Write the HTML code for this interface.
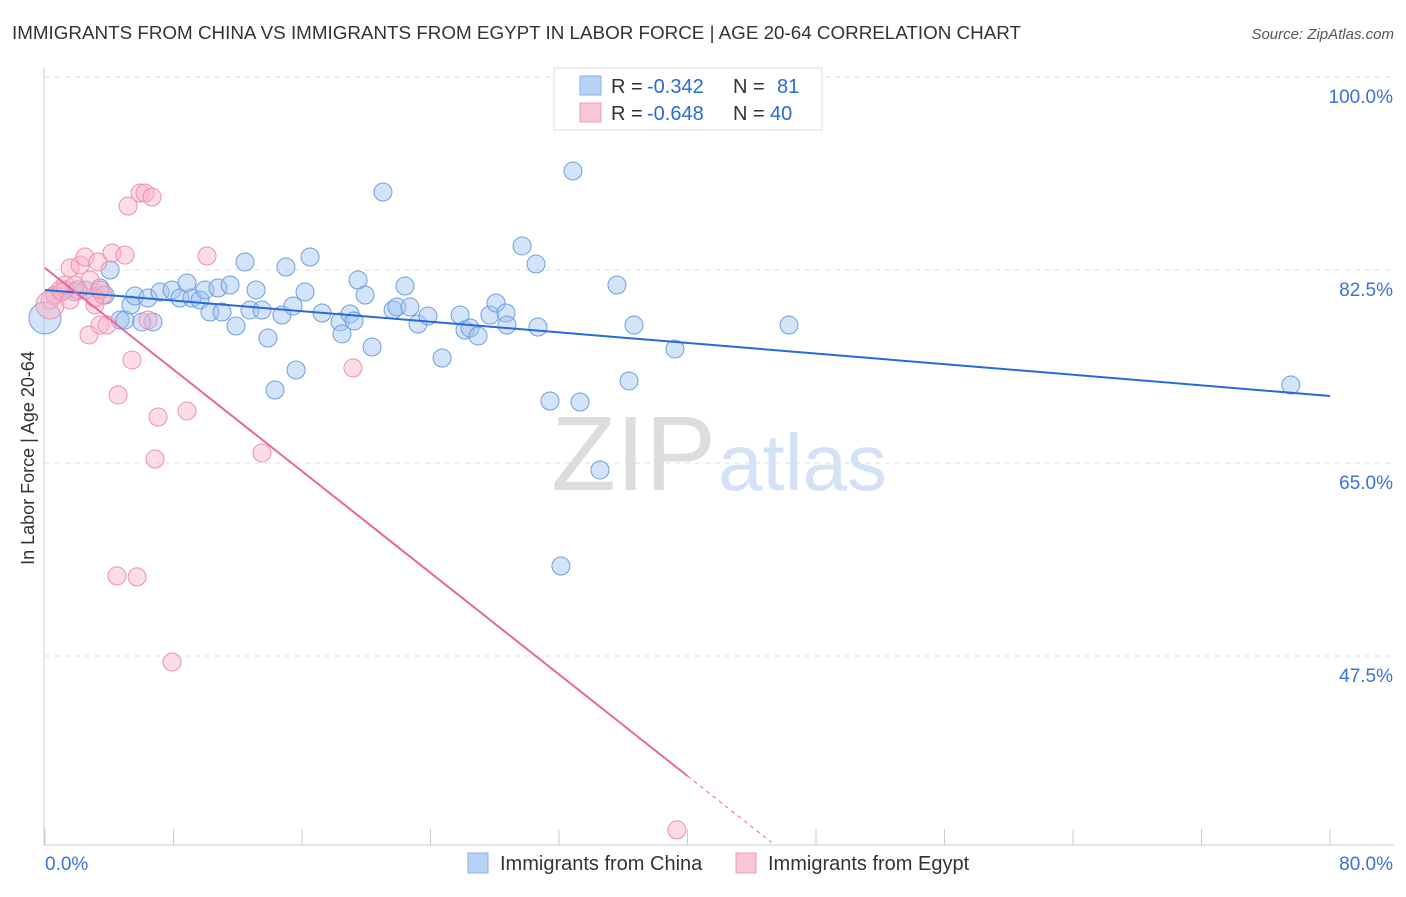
<!DOCTYPE html>
<html><head><meta charset="utf-8"><style>
body{margin:0;background:#fff;font-family:"Liberation Sans",sans-serif;}
svg text{font-family:"Liberation Sans",sans-serif;}
</style></head><body>
<svg id="chart" width="1406" height="892">
<text x="12" y="39" font-size="18" fill="#333" textLength="1009" lengthAdjust="spacingAndGlyphs">IMMIGRANTS FROM CHINA VS IMMIGRANTS FROM EGYPT IN LABOR FORCE | AGE 20-64 CORRELATION CHART</text>
<text x="1394" y="39" font-size="15" fill="#555" font-style="italic" text-anchor="end">Source: ZipAtlas.com</text>
<text x="716" y="490" font-size="106" fill="#ddd" text-anchor="end" font-family="Liberation Serif">ZIP</text>
<text x="718" y="490" font-size="80" fill="#d4e2f5">atlas</text>
<text transform="translate(34,458) rotate(-90)" font-size="18" fill="#333" text-anchor="middle">In Labor Force | Age 20-64</text>
<g id="grid"></g><g id="axes"></g><g id="pts"></g><g id="lines"></g>
<g>
<rect x="554" y="68" width="268" height="62" fill="#fff" stroke="#ddd"/>
<rect x="580" y="76" width="21" height="19" fill="#b8d2f5" stroke="#8ab0e8"/>
<rect x="580" y="103" width="21" height="19" fill="#f9c6d6" stroke="#f09ab6"/>
<text x="611" y="93" font-size="20" fill="#333">R =</text>
<text x="647" y="93" font-size="20" fill="#2a6ad6">-0.342</text>
<text x="733" y="93" font-size="20" fill="#333">N =</text>
<text x="777" y="93" font-size="20" fill="#2a6ad6">81</text>
<text x="611" y="120" font-size="20" fill="#333">R =</text>
<text x="647" y="120" font-size="20" fill="#2a6ad6">-0.648</text>
<text x="733" y="120" font-size="20" fill="#333">N =</text>
<text x="770" y="120" font-size="20" fill="#2a6ad6">40</text>
</g>
<g>
<rect x="468" y="853" width="20" height="20" fill="#b8d2f5" stroke="#8ab0e8"/>
<text x="500" y="870" font-size="20" fill="#333">Immigrants from China</text>
<rect x="736" y="853" width="20" height="20" fill="#f9c6d6" stroke="#f09ab6"/>
<text x="768" y="870" font-size="20" fill="#333">Immigrants from Egypt</text>
</g>
</svg>
<script>
const NS="http://www.w3.org/2000/svg";
const yTicks=[100,82.5,65,47.5];
const xTickLabels=["0.0%","80.0%"];
const chinaX=[0.62,1.25,1.87,2.49,3.43,4.05,3.74,4.67,4.98,5.35,5.6,6.41,6.72,6.03,7.16,7.91,8.4,8.84,9.15,9.65,9.96,10.27,10.77,11.02,11.52,11.89,12.45,12.76,13.14,13.51,13.88,14.75,15,15.44,15.63,14.32,16.19,16.5,17.25,18.37,18.49,18.99,19.24,19.49,19.93,20.36,21.04,21.67,21.91,22.41,22.72,23.22,23.84,24.72,25.84,26.15,26.46,26.96,27.7,28.08,28.7,28.76,29.7,30.57,30.69,31.44,32.12,32.87,33.31,34.55,35.61,36.36,36.67,39.22,46.32,77.56,0];
const chinaY=[80.23,80.69,80.51,80.69,80.87,82.5,80.23,77.97,77.97,79.33,80.14,79.96,77.79,77.79,80.51,80.69,79.96,81.32,79.96,79.78,80.69,78.69,80.87,78.69,81.14,77.42,83.23,78.87,80.69,78.87,76.33,78.42,82.77,79.24,73.43,71.62,80.51,83.68,78.6,77.79,76.7,78.51,77.88,81.59,80.23,75.52,89.57,78.87,79.15,81.05,79.15,77.6,78.33,74.52,78.42,77.06,77.24,76.52,78.42,79.51,78.6,77.51,84.68,83.04,77.33,70.62,55.66,91.48,70.53,64.37,81.14,72.44,77.51,75.34,77.51,72.07,78.15];
const chinaR=[9,9,9,9,9,9,9,9,9,9,9,9,9,9,9,9,9,9,9,9,9,9,9,9,9,9,9,9,9,9,9,9,9,9,9,9,9,9,9,9,9,9,9,9,9,9,9,9,9,9,9,9,9,9,9,9,9,9,9,9,9,9,9,9,9,9,9,9,9,9,9,9,9,9,9,9,16];
const egyptX=[0.31,0.62,0.93,1.25,1.56,1.87,2.18,2.49,2.74,3.11,3.3,3.43,3.61,3.86,4.17,4.55,4.48,4.98,5.17,5.42,5.73,5.92,6.23,6.41,6.66,7.04,6.85,7.91,8.84,10.09,13.51,19.17,39.34,0.31,2.8,3.11,1.06,1.56,3.43,2.05];
const egyptY=[79.78,80.23,80.69,81.14,82.68,81.14,82.95,83.68,76.61,79.33,83.23,77.51,80.23,77.51,84.04,71.17,54.76,83.86,88.3,74.34,54.67,89.48,89.48,77.97,89.12,69.17,65.36,46.96,69.72,83.77,65.91,73.62,31.73,79.33,81.59,79.96,80.51,79.78,80.69,80.69];
const egyptR=[9,9,9,9,9,9,9,9,9,9,9,9,9,9,9,9,9,9,9,9,9,9,9,9,9,9,9,9,9,9,9,9,9,14,9,9,9,9,9,9];
const chinaLine=[80.69,71.08];
const egyptLine=[82.68,-9.44];
const X=v=>45+v/80*1285, Y=v=>77+(100-v)/17.5*193;
const el=(t,a,p)=>{const e=document.createElementNS(NS,t);for(const k in a)e.setAttribute(k,a[k]);p.appendChild(e);return e;};
const grid=document.getElementById('grid'),axes=document.getElementById('axes');
yTicks.forEach(v=>{
 const l=el('line',{x1:45,x2:1394,y1:Y(v),y2:Y(v),stroke:'#ddd','stroke-dasharray':'5,5'},grid);
 
 
 const t=el('text',{x:1393,y:Y(v)+26,'font-size':19,fill:'#3a72d6','text-anchor':'end'},axes);
 t.textContent=v.toFixed(1)+'%';
 
 
});
el('line',{x1:44,x2:44,y1:68,y2:845,stroke:'#ccc'},axes);
el('line',{x1:44,x2:1394,y1:845,y2:845,stroke:'#ccc'},axes);
for(let i=0;i<=10;i++){el('line',{x1:X(i*8),x2:X(i*8),y1:829,y2:845,stroke:'#ccc'},axes);}
xTickLabels.forEach((s,i)=>{
 const t=el('text',{x:i?1393:45,y:870,'font-size':19,fill:'#3a72d6','text-anchor':i?'end':'start'},axes);
 t.textContent=s;
 
 
});
const pts=document.getElementById('pts');
chinaX.forEach((x,i)=>{
 const c=el('circle',{cx:X(x),cy:Y(chinaY[i]),r:chinaR[i],fill:'rgba(160,195,240,0.45)',stroke:'#6e9fe0','stroke-width':1},pts);
 
 
});
egyptX.forEach((x,i)=>{
 const c=el('circle',{cx:X(x),cy:Y(egyptY[i]),r:egyptR[i],fill:'rgba(248,180,200,0.45)',stroke:'#ee90ae','stroke-width':1},pts);
 
 
});
const lines=document.getElementById('lines');
const bl=el('line',{x1:X(0),y1:Y(chinaLine[0]),x2:X(80),y2:Y(chinaLine[1]),stroke:'#2a6ad6','stroke-width':2},lines);


const ey=x=>egyptLine[0]+(egyptLine[1]-egyptLine[0])*x/80;
const pl=el('line',{x1:X(0),y1:Y(ey(0)),x2:X(40),y2:Y(ey(40)),stroke:'#e8679a','stroke-width':2},lines);


const xe=(egyptLine[0]-30.6)/(egyptLine[0]-egyptLine[1])*80;
const pd=el('line',{x1:X(40),y1:Y(ey(40)),x2:X(xe),y2:Y(ey(xe)),stroke:'#e8679a','stroke-width':1,'stroke-dasharray':'4,4'},lines);


</script>
</body></html>
